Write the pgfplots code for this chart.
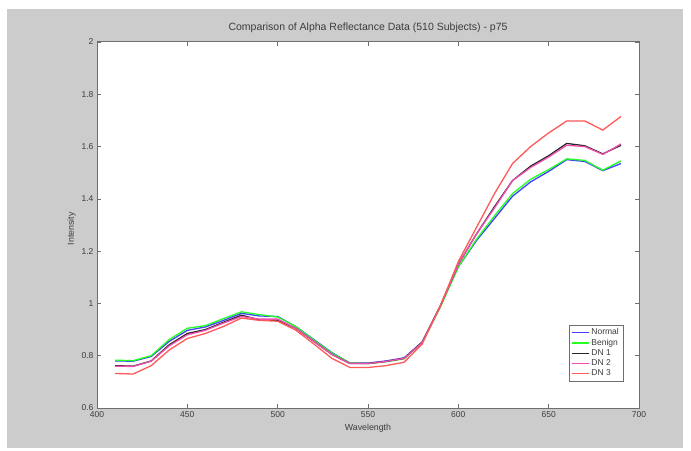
\documentclass[border=0pt]{standalone}
\usepackage{pgfplots}
\pgfplotsset{compat=1.18}
\usepackage{pgfplotstable}
\usepackage{fontspec}
\setmainfont{Liberation Sans}

\definecolor{figgray}{RGB}{204,204,204}
\definecolor{axgray}{RGB}{110,110,110}
\definecolor{txt}{RGB}{60,60,60}

% wavelength, normal, benign, dn1, dn2, dn3
\pgfplotstableread{
wl   normal benign dnone dntwo dnthree
410  0.780  0.783  0.762 0.760 0.732
420  0.779  0.781  0.760 0.759 0.730
430  0.797  0.800  0.780 0.779 0.762
440  0.855  0.862  0.842 0.838 0.822
450  0.897  0.905  0.885 0.880 0.866
460  0.910  0.915  0.900 0.897 0.885
470  0.935  0.942  0.928 0.925 0.912
480  0.962  0.968  0.955 0.950 0.944
490  0.952  0.957  0.937 0.940 0.935
500  0.950  0.948  0.935 0.940 0.932
510  0.912  0.912  0.905 0.905 0.898
520  0.862  0.860  0.855 0.855 0.845
530  0.812  0.810  0.805 0.805 0.790
540  0.772  0.772  0.770 0.770 0.755
550  0.772  0.770  0.770 0.770 0.755
560  0.780  0.777  0.778 0.778 0.762
570  0.792  0.788  0.790 0.790 0.775
580  0.852  0.850  0.852 0.850 0.845
590  0.990  0.985  0.990 0.990 0.990
600  1.140  1.140  1.150 1.150 1.160
610  1.240  1.245  1.265 1.265 1.290
620  1.325  1.335  1.370 1.365 1.420
630  1.410  1.420  1.470 1.470 1.535
640  1.465  1.475  1.525 1.520 1.600
650  1.505  1.512  1.565 1.560 1.652
660  1.550  1.553  1.612 1.605 1.698
670  1.543  1.547  1.603 1.600 1.698
680  1.508  1.510  1.572 1.570 1.663
690  1.535  1.545  1.605 1.610 1.715
}\refl

\begin{document}
\begin{tikzpicture}
\fill[white] (-97pt,-42pt) rectangle (594pt,408pt);
\fill[figgray] (-90pt,-40pt) rectangle (586pt,399pt);
\begin{axis}[
  at={(0,0)}, anchor=south west,
  scale only axis, width=542pt, height=366pt,
  xmin=400, xmax=700, ymin=0.6, ymax=2,
  xtick={400,450,...,700},
  ytick={0.6,0.8,1,1.2,1.4,1.6,1.8,2},
  yticklabels={0.6,0.8,1,1.2,1.4,1.6,1.8,2},
  tick pos=both, tick align=inside,
  major tick length=4pt,
  axis background/.style={fill=white},
  axis line style={axgray, line width=1pt},
  tick style={axgray, line width=0.6pt},
  /pgf/number format/assume math mode=true,
  ticklabel style={font=\fontsize{8.5}{10}\selectfont, text=txt},
  title={Comparison of Alpha Reflectance Data (510 Subjects) - p75},
  title style={at={(0.5,1)}, anchor=base, yshift=5.5pt, font=\fontsize{10.5}{12}\selectfont, text=txt},
  xlabel={Wavelength},
  xlabel style={at={(0.5,0)}, anchor=base, yshift=-22.3pt, font=\fontsize{8.8}{10}\selectfont, text=txt},
  ylabel={Intensity},
  ylabel style={at={(0,0.49)}, anchor=center, yshift=25.3pt, font=\fontsize{8.8}{10}\selectfont, text=txt},
  legend style={at={(0.9705,0.0719)}, anchor=south east, draw=axgray, fill=white,
    font=\fontsize{8.5}{10}\selectfont, text=txt, inner sep=2pt, row sep=-1.2pt},
  legend cell align=left,
  legend image code/.code={\draw[#1, line width=1.3pt] (0pt,0pt) -- (17pt,0pt);},
  every axis plot/.append style={line width=1.3pt},
]
\addplot[blue!75, no marks] table[x=wl, y=normal] {\refl};
\addlegendentry{Normal}
\addplot[green!85!white, no marks] table[x=wl, y=benign] {\refl};
\addlegendentry{Benign}
\addplot[black!85, no marks] table[x=wl, y=dnone] {\refl};
\addlegendentry{DN 1}
\addplot[magenta!70!white, no marks] table[x=wl, y=dntwo] {\refl};
\addlegendentry{DN 2}
\addplot[red!65!white, no marks] table[x=wl, y=dnthree] {\refl};
\addlegendentry{DN 3}
\end{axis}
\end{tikzpicture}
\end{document}
